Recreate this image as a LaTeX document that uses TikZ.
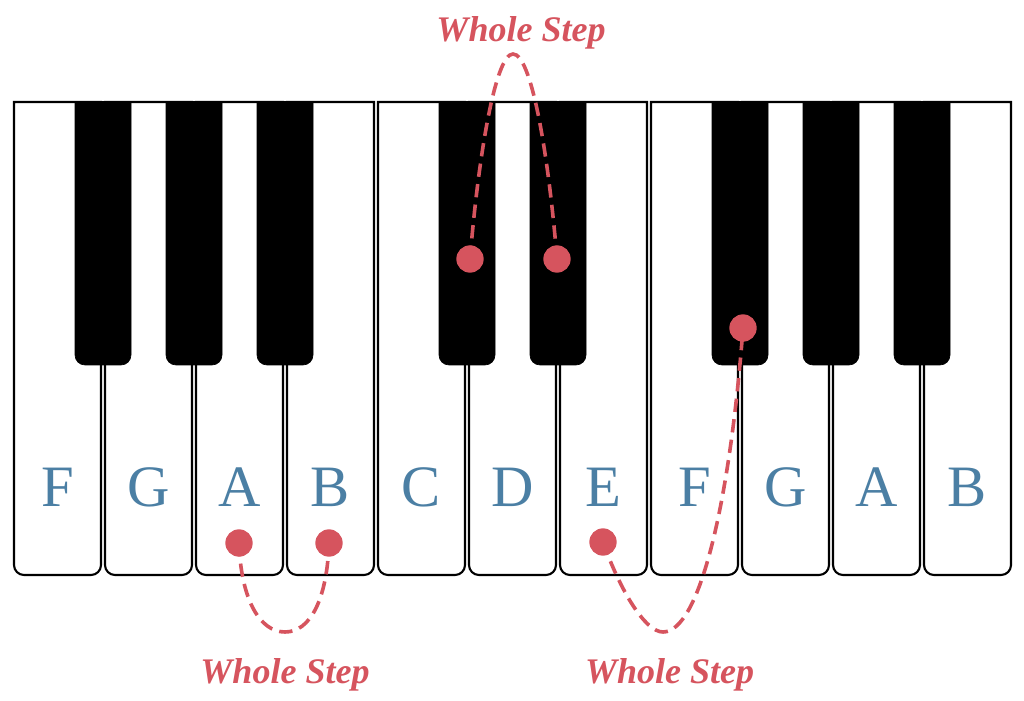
\documentclass[tikz,border=0pt]{standalone}
\usepackage{fontspec}
\setmainfont{Liberation Serif}
\definecolor{stepred}{RGB}{214,84,94}
\definecolor{noteblue}{RGB}{75,127,164}
\tikzset{
  whitekey/.style={draw=black, fill=white, line width=1.6pt},
  blackkey/.style={fill=black, draw=black, line width=0.5pt},
  notelabel/.style={anchor=base, text=noteblue, font=\fontsize{44}{44}\selectfont, inner sep=0pt},
  steplabel/.style={anchor=base, text=stepred, font=\fontsize{27}{28}\selectfont\bfseries\itshape, inner sep=0pt},
  dot/.style={circle, fill=stepred, inner sep=0pt, minimum size=20.5pt},
  stepcurve/.style={draw=stepred, line width=2.7pt, dash pattern=on 10pt off 5.5pt}
}
\begin{document}
\begin{tikzpicture}[x=0.75pt,y=0.75pt]
\useasboundingbox (0,0) rectangle (1024,700);
\fill[white] (0,0) rectangle (1024,700);
% white keys
\foreach \i/\n in {0/F,1/G,2/A,3/B,4/C,5/D,6/E,7/F,8/G,9/A,10/B}{
  \pgfmathsetmacro{\L}{14+91*\i}
  \pgfmathsetmacro{\R}{\L+87}
  \draw[whitekey] (\L,598) -- (\L,135) arc(180:270:10) -- ({\R-10},125) arc(270:360:10) -- (\R,598) -- cycle;
  \node[notelabel] (k\i) at ({\L+43.5},194) {\n};
}
% black keys
\foreach \c in {103,194,285,467,558,740,831,922}{
  \draw[blackkey] ({\c-28},598.5) -- ({\c-28},345) arc(180:270:10) -- ({\c+18},335) arc(270:360:10) -- ({\c+28},598.5) -- cycle;
}
% dot positions
\coordinate (pa) at (239,157);
\coordinate (pb) at (329,157);
\coordinate (pcs) at (470,441);
\coordinate (pds) at (557,441);
\coordinate (pe) at (603,158);
\coordinate (pfs) at (743,372);
% curves
\draw[stepcurve] (pa) .. controls (241,100) and (260,68) .. (285,68) .. controls (310,68) and (327,100) .. (pb);
\draw[stepcurve] (pcs) .. controls (479,550) and (496,646) .. (513,646) .. controls (531,646) and (548,550) .. (pds);
\draw[stepcurve] (pe) .. controls (620,110) and (645,68) .. (663,68) .. controls (700,68) and (730,200) .. (pfs);
% dots
\node[dot] (da) at (pa) {};
\node[dot] (db) at (pb) {};
\node[dot] (dcs) at (pcs) {};
\node[dot] (dds) at (pds) {};
\node[dot] (de) at (pe) {};
\node[dot] (dfs) at (pfs) {};
% labels
\node[steplabel] (s1) at (521,658) {Whole Step};
\node[steplabel] (s2) at (285,17) {Whole Step};
\node[steplabel] (s3) at (669.5,17) {Whole Step};
\end{tikzpicture}
\end{document}
